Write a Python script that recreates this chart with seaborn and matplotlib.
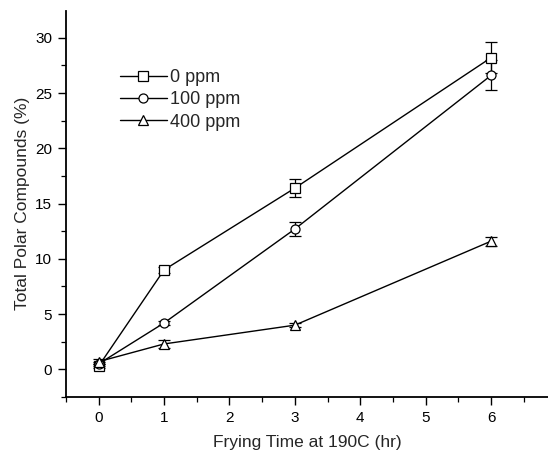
import numpy as np
import pandas as pd
import matplotlib
matplotlib.use("Agg")
import matplotlib.pyplot as plt
from matplotlib.ticker import MultipleLocator
import seaborn as sns

# Frying time (hr) and total polar compounds (%) for each antioxidant level
hours = [0, 1, 3, 6]
tpc_0ppm = [0.3, 9.0, 16.4, 28.2]
tpc_100ppm = [0.5, 4.2, 12.7, 26.6]
tpc_400ppm = [0.7, 2.3, 4.0, 11.6]
err_0ppm = [0.2, 0.3, 0.8, 1.4]
err_100ppm = [0.2, 0.2, 0.6, 1.35]
err_400ppm = [0.2, 0.35, 0.2, 0.4]
series_names = ["0 ppm", "100 ppm", "400 ppm"]

sns.set_theme(style="ticks")
plt.rcParams["font.family"] = ["Liberation Sans", "DejaVu Sans"]

frames = []
for name, vals, errs in zip(series_names,
                            [tpc_0ppm, tpc_100ppm, tpc_400ppm],
                            [err_0ppm, err_100ppm, err_400ppm]):
    frames.append(pd.DataFrame({"hours": hours, "tpc": vals, "err": errs,
                                "level": name}))
df = pd.concat(frames, ignore_index=True)

fig = plt.figure(figsize=(5.48, 4.57), dpi=100)
ax = fig.add_axes([0.1204, 0.1313, 0.8796, 0.8453])

markers = {"0 ppm": "s", "100 ppm": "o", "400 ppm": "^"}

for name in series_names:
    sub = df[df["level"] == name]
    ax.errorbar(sub["hours"], sub["tpc"], yerr=sub["err"], fmt="none",
                ecolor="black", elinewidth=0.9, capsize=4, capthick=0.9,
                zorder=2)

sns.lineplot(data=df, x="hours", y="tpc", style="level", markers=markers,
             dashes=False, color="black", linewidth=1.0, markersize=6.5,
             markerfacecolor="white", markeredgecolor="black",
             markeredgewidth=0.9, ax=ax, zorder=3)

ax.set_xlim(-0.5, 6.87)
ax.set_ylim(-2.5, 32.45)
ax.xaxis.set_major_locator(MultipleLocator(1))
ax.xaxis.set_minor_locator(MultipleLocator(0.5))
ax.yaxis.set_major_locator(MultipleLocator(5))
ax.yaxis.set_minor_locator(MultipleLocator(2.5))
ax.tick_params(which="major", direction="out", length=6, width=1,
               labelsize=11, color="black", labelcolor="black", pad=4)
ax.tick_params(which="minor", direction="out", length=3.5, width=0.9,
               color="black")

for side in ["top", "right"]:
    ax.spines[side].set_visible(False)
for side in ["left", "bottom"]:
    ax.spines[side].set_color("black")
    ax.spines[side].set_linewidth(1.3)

ax.set_xlabel("Frying Time at 190C (hr)", fontsize=12.5, labelpad=7)
ax.set_ylabel("Total Polar Compounds (%)", fontsize=12.5, labelpad=4)

handles, labels = ax.get_legend_handles_labels()
leg = ax.legend(handles, labels, loc="upper left",
                bbox_to_anchor=(0.097, 0.868), frameon=False, fontsize=13,
                handlelength=2.6, handletextpad=0.15, labelspacing=0.3,
                borderaxespad=0)

fig.savefig("out.png", dpi=100)
